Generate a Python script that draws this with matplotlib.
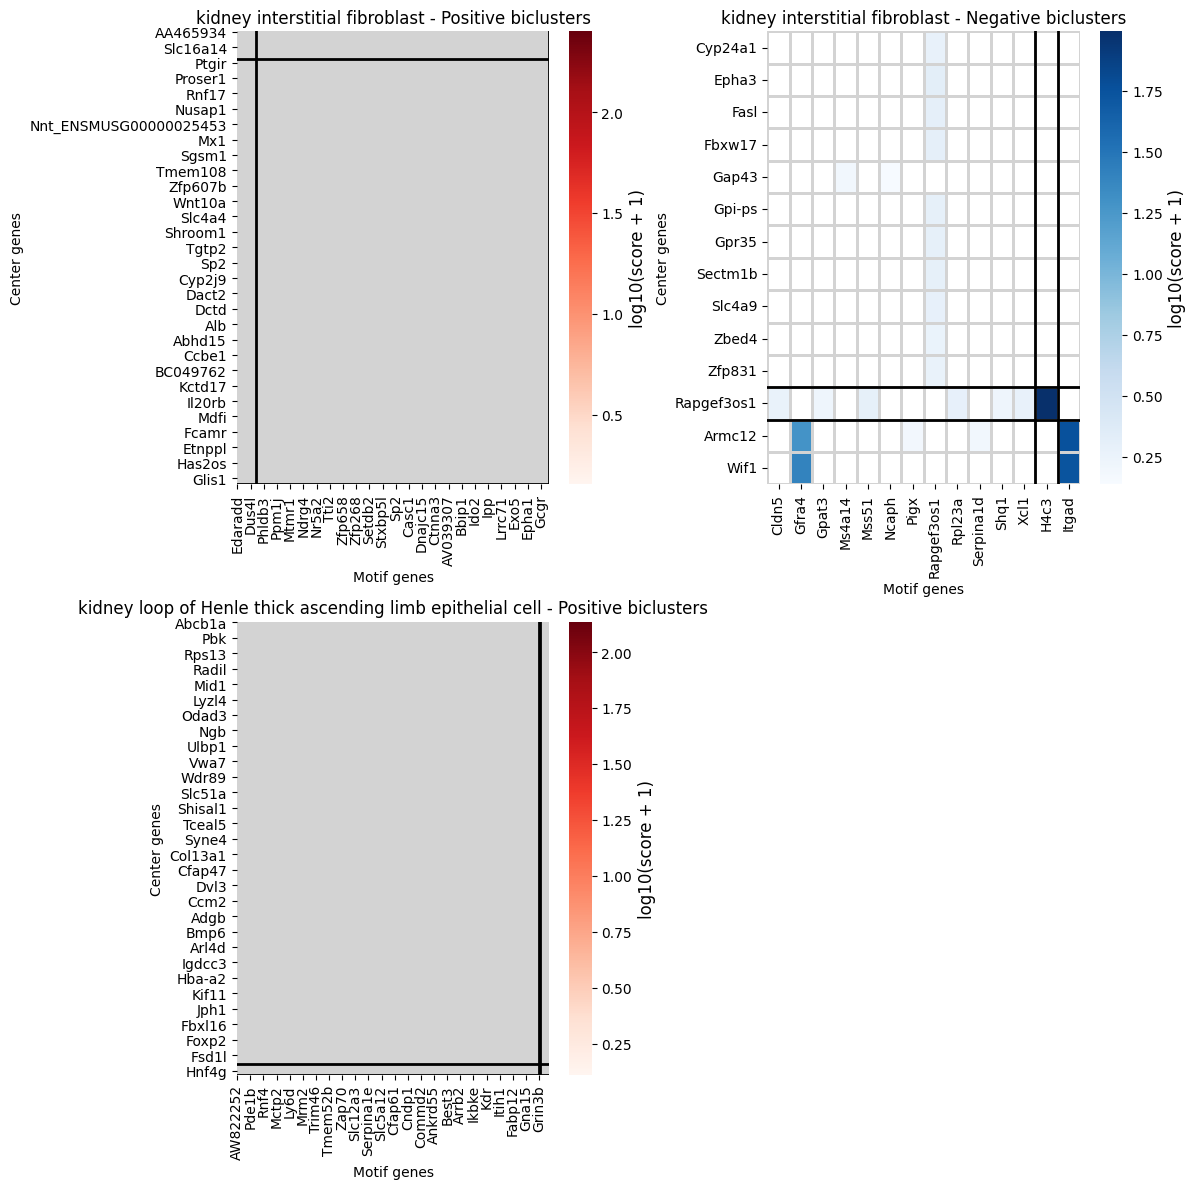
import numpy as np
import matplotlib
matplotlib.use("Agg")
import matplotlib.pyplot as plt
import seaborn as sns

nan = np.nan
CBAR_LABEL = "log10(score + 1)"

# Panel 1: kidney interstitial fibroblast, positive biclusters (dense, only every n-th label shown)
fib_pos_title = "kidney interstitial fibroblast - Positive biclusters"
fib_pos_shape = (471, 237)
fib_pos_label_step = (16, 10)
fib_pos_rows = [
    "AA465934", "Slc16a14", "Ptgir", "Proser1", "Rnf17", "Nusap1",
    "Nnt_ENSMUSG00000025453", "Mx1", "Sgsm1", "Tmem108", "Zfp607b", "Wnt10a",
    "Slc4a4", "Shroom1", "Tgtp2", "Sp2", "Cyp2j9", "Dact2", "Dctd", "Alb",
    "Abhd15", "Ccbe1", "BC049762", "Kctd17", "Il20rb", "Mdfi", "Fcamr",
    "Etnppl", "Has2os", "Glis1",
]
fib_pos_cols = [
    "Edaradd", "Dus4l", "Phldb3", "Ppm1j", "Mtmr1", "Ndrg4", "Nr5a2", "Tti2",
    "Zfp658", "Zfp268", "Setdb2", "Stxbp5l", "Sp2", "Casc1", "Dnajc15",
    "Ctnna3", "AV039307", "Bbip1", "Ido2", "Ipp", "Lrrc71", "Exo5", "Epha1",
    "Gcgr",
]
fib_pos_hlines = [29, 471]
fib_pos_vlines = [15, 237]
fib_pos_limits = (0.154, 2.40)
fib_pos_cbar_ticks = [0.5, 1.0, 1.5, 2.0]

# Panel 2: kidney interstitial fibroblast, negative biclusters
fib_neg_title = "kidney interstitial fibroblast - Negative biclusters"
fib_neg_rows = [
    "Cyp24a1", "Epha3", "Fasl", "Fbxw17", "Gap43", "Gpi-ps", "Gpr35",
    "Sectm1b", "Slc4a9", "Zbed4", "Zfp831", "Rapgef3os1", "Armc12", "Wif1",
]
fib_neg_cols = [
    "Cldn5", "Gfra4", "Gpat3", "Ms4a14", "Mss51", "Ncaph", "Pigx",
    "Rapgef3os1", "Rpl23a", "Serpina1d", "Shq1", "Xcl1", "H4c3", "Itgad",
]
fib_neg_values = [
    [nan, nan, nan, nan, nan, nan, nan, 0.28, nan, nan, nan, nan, nan, nan],
    [nan, nan, nan, nan, nan, nan, nan, 0.33, nan, nan, nan, nan, nan, nan],
    [nan, nan, nan, nan, nan, nan, nan, 0.31, nan, nan, nan, nan, nan, nan],
    [nan, nan, nan, nan, nan, nan, nan, 0.31, nan, nan, nan, nan, nan, nan],
    [nan, nan, nan, 0.20, nan, 0.15, nan, nan, nan, nan, nan, nan, nan, nan],
    [nan, nan, nan, nan, nan, nan, nan, 0.30, nan, nan, nan, nan, nan, nan],
    [nan, nan, nan, nan, nan, nan, nan, 0.30, nan, nan, nan, nan, nan, nan],
    [nan, nan, nan, nan, nan, nan, nan, 0.30, nan, nan, nan, nan, nan, nan],
    [nan, nan, nan, nan, nan, nan, nan, 0.29, nan, nan, nan, nan, nan, nan],
    [nan, nan, nan, nan, nan, nan, nan, 0.26, nan, nan, nan, nan, nan, nan],
    [nan, nan, nan, nan, nan, nan, nan, 0.27, nan, nan, nan, nan, nan, nan],
    [0.27, nan, 0.22, nan, 0.30, nan, nan, nan, 0.29, nan, 0.23, 0.28, 1.994, nan],
    [nan, 1.29, nan, nan, nan, nan, 0.19, nan, nan, 0.20, nan, nan, nan, 1.76],
    [nan, 1.40, nan, nan, nan, nan, nan, nan, nan, nan, nan, nan, nan, 1.74],
]
fib_neg_hlines = [11, 12]
fib_neg_vlines = [12, 13]
fib_neg_min = 0.137

# Panel 3: loop of Henle thick ascending limb, positive biclusters
tal_pos_title = "kidney loop of Henle thick ascending limb epithelial cell - Positive biclusters"
tal_pos_shape = (410, 286)
tal_pos_label_step = (14, 12)
tal_pos_rows = [
    "Abcb1a", "Pbk", "Rps13", "Radil", "Mid1", "Lyzl4", "Odad3", "Ngb",
    "Ulbp1", "Vwa7", "Wdr89", "Slc51a", "Shisal1", "Tceal5", "Syne4",
    "Col13a1", "Cfap47", "Dvl3", "Ccm2", "Adgb", "Bmp6", "Arl4d", "Igdcc3",
    "Hba-a2", "Kif11", "Jph1", "Fbxl16", "Foxp2", "Fsd1l", "Hnf4g",
]
tal_pos_cols = [
    "AW822252", "Pde1b", "Rnf4", "Mctp2", "Ly6d", "Mrm2", "Trim46", "Tmem52b",
    "Zap70", "Slc12a3", "Serpina1e", "Slc5a12", "Cfap61", "Cndp1", "Commd2",
    "Ankrd55", "Best3", "Arrb2", "Ikbke", "Kdr", "Itih1", "Fabp12", "Gna15",
    "Grin3b",
]
tal_pos_hlines = [400, 410]
tal_pos_vlines = [276, 277]
tal_pos_limits = (0.111, 2.136)
tal_pos_cbar_ticks = [0.25, 0.5, 0.75, 1.0, 1.25, 1.5, 1.75, 2.0]


def style_cbar(ax, ticks=None):
    cb = ax.collections[0].colorbar
    if ticks is not None:
        cb.set_ticks(ticks)
    cb.ax.yaxis.label.set_size(12)


def draw_lines(ax, hlines, vlines):
    for y in hlines:
        ax.axhline(y, color="black", lw=2)
    for x in vlines:
        ax.axvline(x, color="black", lw=2)


def dense_panel(ax, title, shape, steps, rows, cols, hlines, vlines, limits, cmap, cticks):
    data = np.full(shape, nan)
    sns.heatmap(
        data, ax=ax, cmap=cmap, vmin=limits[0], vmax=limits[1],
        linewidths=1, linecolor="lightgray",
        xticklabels=False, yticklabels=False,
        cbar_kws={"label": CBAR_LABEL},
    )
    ax.set_yticks(np.arange(len(rows)) * steps[0] + 0.5)
    ax.set_yticklabels(rows, rotation=0)
    ax.set_xticks(np.arange(len(cols)) * steps[1] + 0.5)
    ax.set_xticklabels(cols, rotation=90)
    draw_lines(ax, hlines, vlines)
    style_cbar(ax, cticks)
    ax.set_title(title)
    ax.set_xlabel("Motif genes")
    ax.set_ylabel("Center genes")


fig, axes = plt.subplots(2, 2, figsize=(12, 12))

dense_panel(axes[0, 0], fib_pos_title, fib_pos_shape, fib_pos_label_step,
            fib_pos_rows, fib_pos_cols, fib_pos_hlines, fib_pos_vlines,
            fib_pos_limits, "Reds", fib_pos_cbar_ticks)

ax = axes[0, 1]
sns.heatmap(
    np.array(fib_neg_values), ax=ax, cmap="Blues", vmin=fib_neg_min,
    linewidths=1, linecolor="lightgray",
    xticklabels=fib_neg_cols, yticklabels=fib_neg_rows,
    cbar_kws={"label": CBAR_LABEL},
)
ax.set_yticklabels(fib_neg_rows, rotation=0)
ax.set_xticklabels(fib_neg_cols, rotation=90)
draw_lines(ax, fib_neg_hlines, fib_neg_vlines)
style_cbar(ax)
ax.set_title(fib_neg_title)
ax.set_xlabel("Motif genes")
ax.set_ylabel("Center genes")

dense_panel(axes[1, 0], tal_pos_title, tal_pos_shape, tal_pos_label_step,
            tal_pos_rows, tal_pos_cols, tal_pos_hlines, tal_pos_vlines,
            tal_pos_limits, "Reds", tal_pos_cbar_ticks)

axes[1, 1].axis("off")

plt.tight_layout()
fig.savefig("out.png", dpi=100, bbox_inches="tight")
